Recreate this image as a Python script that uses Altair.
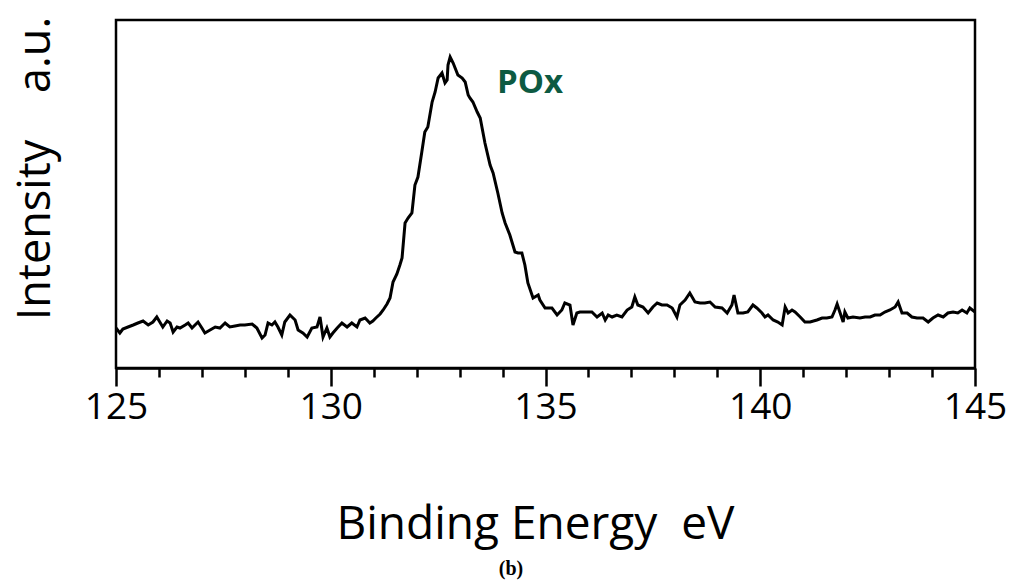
import altair as alt
import pandas as pd

# Binding energy (eV) and intensity (a.u.)
energy = [
    125.00, 125.09, 125.16, 125.28, 125.40, 125.51, 125.63, 125.75, 125.86, 125.95,
    126.02, 126.09, 126.19, 126.26, 126.33, 126.42, 126.49, 126.61, 126.68, 126.77,
    126.84, 126.91, 127.00, 127.07, 127.19, 127.31, 127.42, 127.54, 127.65, 127.77,
    127.89, 128.00,
    128.17, 128.28, 128.40, 128.47, 128.54, 128.63, 128.70, 128.77, 128.86, 128.93,
    129.05, 129.17, 129.24, 129.35, 129.45, 129.56, 129.68, 129.75, 129.82, 129.91,
    129.98, 130.05, 130.15, 130.26, 130.38, 130.49, 130.61, 130.68, 130.80, 130.91,
    130.98, 131.05, 131.15, 131.22, 131.31, 131.38, 131.45, 131.54, 131.61, 131.66,
    131.73, 131.80, 131.89, 131.96, 132.03, 132.12, 132.19, 132.26, 132.36, 132.43,
    132.50, 132.59, 132.66, 132.71, 132.73, 132.78, 132.85, 132.96, 133.06, 133.13,
    133.20, 133.24, 133.31, 133.41, 133.48, 133.59, 133.71, 133.78, 133.89, 133.99,
    134.06, 134.17, 134.29, 134.36, 134.45, 134.52, 134.59, 134.71, 134.83, 134.87,
    134.99, 135.08, 135.15, 135.27, 135.38, 135.45, 135.57, 135.64, 135.73, 135.80,
    135.97, 136.08, 136.20, 136.32, 136.39, 136.46, 136.55, 136.66, 136.78, 136.90,
    137.01, 137.08, 137.15, 137.27, 137.39, 137.50, 137.60, 137.71, 137.83, 137.95,
    138.06, 138.13, 138.25, 138.36, 138.48, 138.60, 138.71, 138.83, 138.95, 139.11,
    139.23, 139.34, 139.39, 139.48, 139.60, 139.71, 139.83, 139.92, 140.04, 140.11,
    140.18, 140.30, 140.41, 140.51, 140.58, 140.65, 140.74, 140.81, 140.93, 141.04,
    141.16, 141.32, 141.44, 141.55, 141.67, 141.74, 141.79, 141.86, 141.93, 141.97,
    142.04, 142.16, 142.32, 142.44, 142.56, 142.67, 142.79, 142.90, 143.02, 143.14,
    143.21, 143.30, 143.42, 143.53, 143.65, 143.79, 143.91, 144.02, 144.14, 144.26,
    144.37, 144.49, 144.60, 144.70, 144.81, 144.88, 145.00,
]

intensity = [
    40, 35, 39, 41, 43, 45, 47, 43, 46, 51,
    46, 41, 47, 45, 36, 41, 40, 43, 45, 40,
    43, 46, 40, 35, 38, 41, 40, 45, 41, 42,
    43, 43,
    44, 40, 30, 33, 45, 43, 46, 41, 33, 46,
    53, 48, 38, 35, 31, 40, 41, 51, 31, 40,
    31, 35, 40, 45, 41, 45, 41, 48, 50, 45,
    47, 50, 54, 58, 64, 70, 86, 94, 103, 110,
    145, 150, 155, 183, 191, 216, 236, 241, 266, 276,
    290, 295, 285, 288, 303, 311, 305, 293, 290, 286,
    273, 270, 266, 256, 250, 225, 203, 195, 175, 155,
    145, 133, 116, 115, 115, 103, 85, 70, 73, 68,
    60, 60, 60, 53, 58, 65, 63, 43, 55, 56,
    56, 56, 51, 55, 48, 53, 51, 53, 51, 58,
    61, 71, 63, 61, 55, 61, 65, 63, 63, 60,
    51, 63, 68, 75, 66, 65, 65, 66, 61, 60,
    55, 63, 73, 55, 55, 56, 63, 60, 55, 51,
    53, 48, 46, 43, 61, 55, 58, 56, 51, 46,
    46, 48, 50, 50, 51, 58, 64, 55, 46, 56,
    50, 51, 50, 51, 51, 53, 53, 56, 58, 61,
    66, 55, 55, 51, 50, 50, 46, 50, 53, 51,
    55, 56, 55, 58, 55, 60, 56,
]

tick_values = list(range(125, 146))
x_domain = [125, 145]
y_domain = [0, 348]

peak_label = ["POx"]
peak_label_energy = [133.87]
peak_label_intensity = [275]

NB = "\u00a0"
x_title = "Binding Energy" + NB * 2 + "eV"
y_title = "Intensity" + NB * 4 + "a.u."

df = pd.DataFrame({"E": energy, "I": intensity})
lab = pd.DataFrame({"E": peak_label_energy, "I": peak_label_intensity, "t": peak_label})

x_scale = alt.Scale(domain=x_domain, nice=False, zero=False)
y_scale = alt.Scale(domain=y_domain, nice=False, zero=False)

x_axis = alt.Axis(
    values=tick_values,
    labelExpr="datum.value % 5 === 0 ? datum.label : ''",
    labelOverlap=False,
    labelFlush=False,
    tickSize={"condition": {"test": "datum.value % 5 === 0", "value": 18}, "value": 9},
    tickWidth=2.5,
    tickColor="black",
    domainColor="black",
    domainWidth=2.5,
    grid=False,
    labelFont="Open Sans",
    labelFontSize=37,
    labelColor="black",
    labelPadding=3,
    title=x_title,
    titleFont="Open Sans",
    titleFontSize=46,
    titleFontWeight="normal",
    titleColor="black",
    titleX=419,
    titleY=170,
    titleAlign="center",
    titleBaseline="alphabetic",
)

y_axis = alt.Axis(
    domain=False,
    ticks=False,
    labels=False,
    grid=False,
    title=y_title,
    titleFont="Open Sans",
    titleFontSize=45,
    titleFontWeight="normal",
    titleColor="black",
    titleAngle=270,
    titleX=-67,
    titleY=148,
    titleAlign="center",
    titleBaseline="alphabetic",
)

line = alt.Chart(df).mark_line(color="black", strokeWidth=3).encode(
    x=alt.X("E:Q", scale=x_scale, axis=x_axis),
    y=alt.Y("I:Q", scale=y_scale, axis=y_axis),
)

label = alt.Chart(lab).mark_text(
    font="Open Sans", fontSize=33, fontWeight="bold", color="#0d5a42",
    align="left", baseline="alphabetic",
).encode(
    x=alt.X("E:Q", scale=x_scale),
    y=alt.Y("I:Q", scale=y_scale),
    text="t:N",
)

caption = alt.Chart(pd.DataFrame({"t": ["(b)"]})).mark_text(
    font="Liberation Serif", fontSize=20, fontWeight="bold", color="black",
    align="center", baseline="alphabetic",
).encode(
    x=alt.value(395),
    y=alt.value(555),
    text="t:N",
)

chart = alt.layer(line, label, caption).properties(
    width=859,
    height=348,
    autosize=alt.AutoSizeParams(type="none"),
    padding={"left": 116, "top": 20, "right": 36, "bottom": 215},
    background="white",
).configure_view(stroke="black", strokeWidth=2.5)

chart.save("out.html", embed_options={"renderer": "svg", "actions": False})
